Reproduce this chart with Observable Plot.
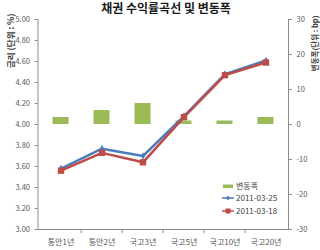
<!DOCTYPE html>
<html><head><meta charset="utf-8">
<script src="https://cdn.jsdelivr.net/npm/d3@7"></script>
<script src="https://cdn.jsdelivr.net/npm/@observablehq/plot@0.6"></script>
<style>
body{margin:0;background:#fff;font-family:"Noto Sans CJK KR","Noto Sans",sans-serif;}
#wrap{position:relative;width:320px;height:250px;overflow:hidden;background:#fff}
#title{position:absolute;left:6px;top:0px;width:320px;text-align:center;font-size:12px;font-weight:bold;color:#1a1a1a;line-height:16px}
#legend{position:absolute;left:222px;top:181px;font-size:8px;color:#404040;line-height:12px}
#legend .row{display:flex;align-items:center;height:12px}
#legend .row + .row{margin-top:1px}
#legend .row:first-child{height:10px}
#legend svg{margin-right:2px}
#chart{position:absolute;left:0;top:0}
</style></head><body>
<div id="wrap"><div id="chart"></div><div id="title"></div><div id="legend"></div></div>
<script>
const title = "채권 수익률곡선 및 변동폭";
const categories = ["통안1년","통안2년","국고3년","국고5년","국고10년","국고20년"];
const rate0325 = [3.58, 3.77, 3.70, 4.08, 4.48, 4.61];
const rate0318 = [3.56, 3.73, 3.64, 4.07, 4.47, 4.59];
const changeBp = [2, 4, 6, 1, 1, 2];
const leftTicks = [3.0, 3.2, 3.4, 3.6, 3.8, 4.0, 4.2, 4.4, 4.6, 4.8, 5.0];
const rightTicks = [-30, -20, -10, 0, 10, 20, 30];
const seriesNames = ["변동폭", "2011-03-25", "2011-03-18"];
const leftLabel = "금리 (단위 : %)";
const rightLabel = "변동폭(단위 : bp)";

const colors = {bar: "#9bbb59", blue: "#4a7ebb", red: "#be4b48", axis: "#8c8c8c", text: "#595959"};
// right axis (bp) mapped onto the left axis (%): 0bp at 4.00, 30bp per 1.00
const bpToRate = bp => 4 + bp / 30;
const rateToBp = r => Math.round((r - 4) * 30);

const data = categories.map((c, i) => ({cat: c, a: rate0325[i], b: rate0318[i], ch: changeBp[i]}));

const W = 320, H = 250, mL = 37.5, mR = 32, mT = 19, mB = 21;
const step = (W - mL - mR) / categories.length;

const chart = Plot.plot({
  width: W, height: H,
  marginLeft: mL, marginRight: mR, marginTop: mT, marginBottom: mB,
  style: {fontFamily: '"Noto Sans CJK KR", "Noto Sans", sans-serif', color: colors.text, background: "#fff", overflow: "visible"},
  x: {type: "band", domain: categories, padding: 0, axis: null},
  y: {domain: [3, 5], axis: null},
  marks: [
    Plot.frame({anchor: "left", stroke: colors.axis}),
    Plot.frame({anchor: "right", stroke: colors.axis}),
    Plot.frame({anchor: "bottom", stroke: colors.axis}),
    Plot.axisY(leftTicks, {anchor: "left", tickFormat: d => d.toFixed(2), tickSize: 3, tickPadding: 5, fontSize: 7.5, stroke: colors.axis, fill: colors.text, label: null}),
    Plot.axisY(rightTicks.map(bpToRate), {anchor: "right", tickFormat: rateToBp, tickSize: 3, tickPadding: 5, fontSize: 7.5, stroke: colors.axis, fill: colors.text, label: null}),
    Plot.axisX({anchor: "bottom", tickSize: 0, tickPadding: 10, fontSize: 8, fill: colors.text, label: null}),
    Plot.ruleX(categories.slice(1), {x: d => d, y1: 3, y2: 2.96, dx: -step / 2, stroke: colors.axis}),
    Plot.barY(data, {x: "cat", y1: bpToRate(0), y2: d => bpToRate(d.ch), fill: colors.bar, insetLeft: 12.5, insetRight: 12.5}),
    Plot.line(data, {x: "cat", y: "a", stroke: colors.blue, strokeWidth: 2.5}),
    Plot.dot(data, {x: "cat", y: "a", symbol: "diamond", r: 2.3, fill: colors.blue, stroke: null}),
    Plot.line(data, {x: "cat", y: "b", stroke: colors.red, strokeWidth: 2.5}),
    Plot.dot(data, {x: "cat", y: "b", symbol: "square", r: 3.6, fill: colors.red, stroke: null}),
    Plot.text([leftLabel], {frameAnchor: "top-left", text: d => d, rotate: -90, textAnchor: "end", dx: -30.5, dy: -6, fontSize: 8.5, fontWeight: "bold", fill: "#404040"}),
    Plot.text([rightLabel], {frameAnchor: "top-right", text: d => d, rotate: -90, textAnchor: "end", dx: 24.5, dy: -4, fontSize: 7.5, fontWeight: "bold", fill: "#404040"})
  ]
});
document.getElementById("chart").appendChild(chart);
document.getElementById("title").textContent = title;

const sw = [
  `<svg width="12" height="8"><rect x="1" y="2.5" width="10" height="3.5" fill="${colors.bar}"/></svg>`,
  `<svg width="12" height="8"><line x1="0" y1="4" x2="12" y2="4" stroke="${colors.blue}" stroke-width="1.5"/><path d="M6,1.8L8.2,4L6,6.2L3.8,4Z" fill="${colors.blue}"/></svg>`,
  `<svg width="12" height="8"><line x1="0" y1="4" x2="12" y2="4" stroke="${colors.red}" stroke-width="1.5"/><rect x="3.5" y="1.5" width="5" height="5" fill="${colors.red}"/></svg>`
];
document.getElementById("legend").innerHTML = seriesNames.map((n, i) =>
  `<div class="row">${sw[i]}<span>${n}</span></div>`).join("");
</script>
</body></html>
